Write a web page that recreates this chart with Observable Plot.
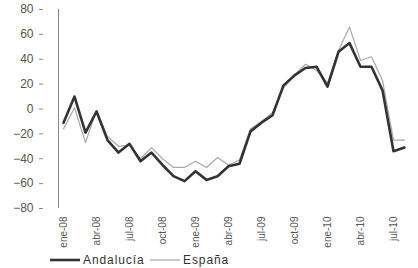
<!DOCTYPE html>
<html>
<head>
<meta charset="utf-8">
<script src="https://cdn.jsdelivr.net/npm/d3@7"></script>
<script src="https://cdn.jsdelivr.net/npm/@observablehq/plot@0.6"></script>
<style>
  html, body { margin: 0; padding: 0; background: #fff; }
  body { width: 418px; height: 268px; overflow: hidden; font-family: "Liberation Sans", Arial, sans-serif; }
  #legend { position: relative; height: 18px; font-size: 12px; letter-spacing: 0.9px; color: #333; }
  #legend .item { position: absolute; top: 3px; display: flex; align-items: center; }
  #legend svg { margin-right: 3px; }
</style>
</head>
<body>
<div id="chart"></div>
<div id="legend"></div>
<script>
const months = ["ene-08","feb-08","mar-08","abr-08","may-08","jun-08","jul-08","ago-08","sep-08","oct-08","nov-08","dic-08",
                "ene-09","feb-09","mar-09","abr-09","may-09","jun-09","jul-09","ago-09","sep-09","oct-09","nov-09","dic-09",
                "ene-10","feb-10","mar-10","abr-10","may-10","jun-10","jul-10","ago-10"];
const andalucia = [-11, 10, -19, -2, -25, -35, -28, -42, -35, -45, -54, -58,
                   -50, -57, -54, -46, -44, -18, -11, -5, 19, 27, 33, 34,
                   18, 46, 53, 34, 34, 15, -34, -31];
const espana = [-16, 1, -27, -1, -22, -30, -29, -40, -31, -40, -47, -47,
                -42, -47, -39, -45, -41, -16, -10, -3, 17, 27, 36, 31,
                21, 47, 66, 39, 42, 23, -25, -25];
const yTicks = [-80, -60, -40, -20, 0, 20, 40, 60, 80];
const xTicks = ["ene-08","abr-08","jul-08","oct-08","ene-09","abr-09","jul-09","oct-09","ene-10","abr-10","jul-10"];
const seriesNames = ["Andalucía", "España"];
const seriesColors = ["#333333", "#a8a8a8"];
const seriesWidths = [2.6, 1.2];

const data = [];
months.forEach((m, i) => {
  data.push({month: m, value: andalucia[i], serie: seriesNames[0]});
  data.push({month: m, value: espana[i], serie: seriesNames[1]});
});

const chart = Plot.plot({
  width: 418,
  height: 250,
  marginTop: 9,
  marginBottom: 42,
  marginLeft: 43,
  marginRight: 0,
  style: {fontFamily: "Liberation Sans, Arial, sans-serif", background: "#fff"},
  x: {type: "point", domain: months, padding: 0, insetLeft: 5, insetRight: 0},
  y: {domain: [-80, 80]},
  marks: [
    Plot.axisY({ticks: yTicks, tickSize: 4, tickPadding: 6, fontSize: 12, stroke: "#888", fill: "#555", label: null, style: {letterSpacing: "1px"}}),
    Plot.ruleX([months[0]], {dx: -5, y1: -80, y2: 80, stroke: "#888"}),
    Plot.axisX({ticks: xTicks, tickRotate: -90, tickSize: 0, tickPadding: 8, fontSize: 10, fill: "#555", label: null}),
    Plot.line(data.filter(d => d.serie === seriesNames[1]), {x: "month", y: "value", stroke: seriesColors[1], strokeWidth: seriesWidths[1]}),
    Plot.line(data.filter(d => d.serie === seriesNames[0]), {x: "month", y: "value", stroke: seriesColors[0], strokeWidth: seriesWidths[0]})
  ]
});
document.getElementById("chart").appendChild(chart);

const legend = document.getElementById("legend");
const lefts = [50, 150];
seriesNames.forEach((name, i) => {
  const item = document.createElement("div");
  item.className = "item";
  item.style.left = lefts[i] + "px";
  item.innerHTML = `<svg width="30" height="10"><line x1="0" x2="30" y1="5" y2="5" stroke="${seriesColors[i]}" stroke-width="${seriesWidths[i]}"/></svg><span>${name}</span>`;
  legend.appendChild(item);
});
</script>
</body>
</html>
